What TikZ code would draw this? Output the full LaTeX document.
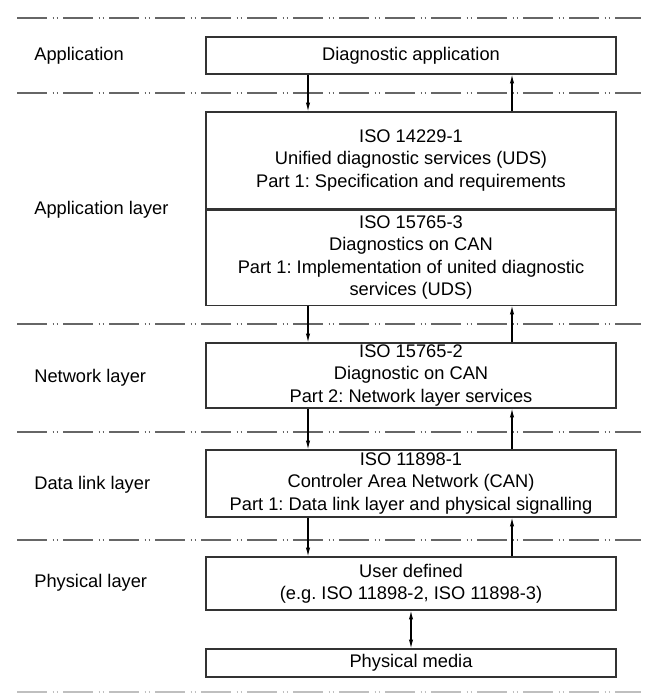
\documentclass[tikz,border=0pt]{standalone}
\usepackage{fontspec}
\setmainfont{Liberation Sans}
\frenchspacing
\usetikzlibrary{arrows.meta}
\tikzset{
    layerbox/.style={draw=black!80, line width=0.6pt, minimum width=8.2cm, align=center, inner sep=0pt, font=\fontsize{10.4}{12.6}\selectfont},
    layername/.style={anchor=west, inner sep=0pt, font=\fontsize{10.4}{12.6}\selectfont},
    sepline/.style={draw=black!60, line width=1pt, dash pattern=on 0.6cm off 0.11cm on 0.02cm off 0.06cm on 0.02cm off 0.11cm},
    arr/.style={-{Latex[length=5pt,width=2.4pt]}, line width=0.6pt},
}
\begin{document}
\begin{tikzpicture}
    \useasboundingbox (0,0) rectangle (13,-13.98);
    % layer separators
    \foreach \y in {0.36,1.86,6.48,8.64,10.8}
        \draw[sepline] (0.34,-\y) -- (12.82,-\y);
    \draw[sepline, draw=black!25] (0.34,-13.84) -- (12.82,-13.84);
    % layer names
    \node[layername] (lapp) at (0.68,-1.12) {Application};
    \node[layername] (lal) at (0.68,-4.2) {Application layer};
    \node[layername] (lnet) at (0.68,-7.56) {Network layer};
    \node[layername] (ldll) at (0.68,-9.7) {Data link layer};
    \node[layername] (lphy) at (0.68,-11.66) {Physical layer};
    % boxes
    \node[layerbox, minimum height=0.74cm] (app) at (8.22,-1.11) {Diagnostic application};
    \node[layerbox, minimum height=1.94cm] (uds) at (8.22,-3.21) {ISO 14229-1\\Unified diagnostic services (UDS)\\Part 1: Specification and requirements};
    \node[layerbox, minimum height=1.9cm, anchor=north] (can3) at (uds.south) {ISO 15765-3\\Diagnostics on CAN\\Part 1: Implementation of united diagnostic\\services (UDS)};
    \node[layerbox, minimum height=1.3cm] (net) at (8.22,-7.51) {ISO 15765-2\\Diagnostic on CAN\\Part 2: Network layer services};
    \node[layerbox, minimum height=1.34cm] (dll) at (8.22,-9.67) {ISO 11898-1\\Controler Area Network (CAN)\\Part 1: Data link layer and physical signalling};
    \node[layerbox, minimum height=1.06cm] (user) at (8.22,-11.67) {User defined\\(e.g. ISO 11898-2, ISO 11898-3)};
    \node[layerbox, minimum height=0.56cm] (media) at (8.22,-13.26) {Physical media};
    % requests down, responses up
    \foreach \a/\b in {app/uds,can3/net,net/dll,dll/user} {
        \draw[arr] ([xshift=-2.06cm]\a.south) -- ([xshift=-2.06cm]\b.north);
        \draw[arr] ([xshift=2.02cm]\b.north) -- ([xshift=2.02cm]\a.south);
    }
    \draw[arr, {Latex[length=5pt,width=2.4pt]}-{Latex[length=5pt,width=2.4pt]}] (user) -- (media);
\end{tikzpicture}
\end{document}
